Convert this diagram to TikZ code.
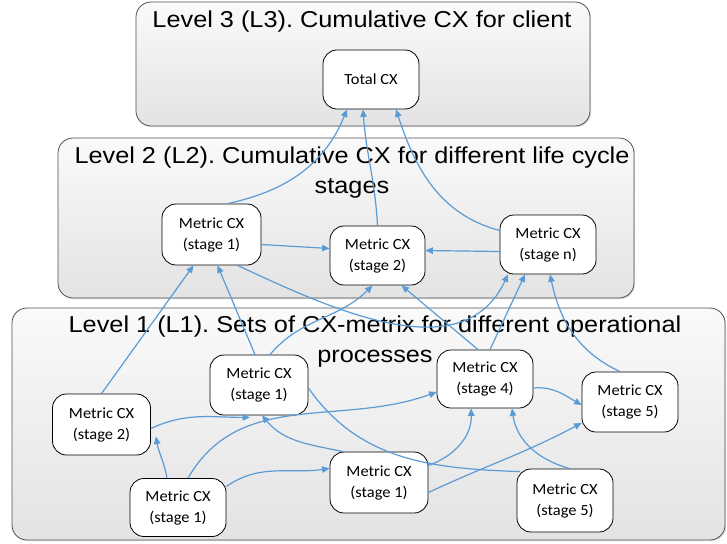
\documentclass[tikz,border=0pt]{standalone}
\usepackage{fontspec}
\setmainfont{Liberation Sans}[FakeStretch=1.1]
\newfontfamily\metricfont{Carlito}[FakeStretch=1.06]
\usetikzlibrary{arrows.meta,shadows}
\definecolor{linkblue}{HTML}{5B9BD5}
\definecolor{frameedge}{HTML}{505050}
\frenchspacing

\begin{document}
\begin{tikzpicture}[x=1pt,y=-1pt,
  levelbox/.style={draw=frameedge, line width=0.8pt, rounded corners=15pt,
    top color=gray!4, bottom color=gray!22, inner sep=0pt,
    drop shadow={shadow xshift=1.2pt, shadow yshift=-1.2pt, opacity=0.25}},
  leveltitle/.style={font=\fontsize{23}{30}\selectfont, align=center, inner sep=0pt},
  metric/.style={draw=black, line width=0.8pt, fill=white, rounded corners=14pt,
    minimum width=97pt, minimum height=60pt, inner sep=2pt, align=center,
    font=\metricfont\fontsize{15.5}{21}\selectfont},
  link/.style={draw=linkblue, line width=1.2pt, -{Triangle[length=7.5pt,width=6.5pt]}},
  tie/.style={draw=linkblue, line width=1.2pt}
]
\useasboundingbox (0,0) rectangle (727,543);

% the three level frames
\node[levelbox, minimum width=454pt, minimum height=124pt] (l3) at (363,64) {};
\node[levelbox, minimum width=576pt, minimum height=160pt] (l2) at (346,218) {};
\node[levelbox, minimum width=713pt, minimum height=232pt] (l1) at (368.5,424) {};

\node[leveltitle] (t3) at (362,22) {Level 3 (L3). Cumulative CX for client};
\node[leveltitle] (t2) at (352,173) {Level 2 (L2). Cumulative CX for different life cycle\\stages};
\node[leveltitle] (t1) at (375,342) {Level 1 (L1). Sets of CX-metrix for different operational\\processes};

% level 3
\node[metric, minimum width=96pt, minimum height=59pt] (tot) at (371,79.5) {Total CX};

% level 2
\node[metric, minimum width=99pt, minimum height=61pt] (m2a) at (211.5,234.5) {Metric CX\\(stage 1)};
\node[metric, minimum width=95pt, minimum height=59pt] (m2b) at (377.5,255.5) {Metric CX\\(stage 2)};
\node[metric, minimum width=96pt, minimum height=59pt] (m2n) at (548,244.5) {Metric CX\\(stage n)};

% level 1
\node[metric, minimum width=98pt, minimum height=61pt] (a) at (101.5,424.5) {Metric CX\\(stage 2)};
\node[metric, minimum width=98pt, minimum height=60pt] (b) at (259,385) {Metric CX\\(stage 1)};
\node[metric, minimum width=96pt, minimum height=58pt] (c) at (485,379) {Metric CX\\(stage 4)};
\node[metric, minimum width=96pt, minimum height=60pt] (d) at (630,402) {Metric CX\\(stage 5)};
\node[metric, minimum width=96pt, minimum height=58pt] (e) at (178,507.5) {Metric CX\\(stage 1)};
\node[metric, minimum width=98pt, minimum height=61pt] (f) at (379,482.5) {Metric CX\\(stage 1)};
\node[metric, minimum width=96pt, minimum height=63pt] (g) at (565,500.5) {Metric CX\\(stage 5)};

% level 2 -> level 3
\draw[link] ([xshift=16pt]m2a.north) to[out=12, in=-112] ([xshift=-24pt]tot.south);
\draw[link] (m2b.north) to[out=93, in=-86] ([xshift=-8pt]tot.south);
\draw[link] ([yshift=14pt]m2n.west) to[out=165, in=-72] ([xshift=25pt]tot.south);

% within level 2
\draw[link] ([yshift=-10pt]m2a.east) -- ([yshift=7pt]m2b.west);
\draw[link] ([yshift=-7pt]m2n.west) -- ([yshift=5pt]m2b.east);

% level 1 -> level 2
\draw[link] (a.north) -- ([xshift=-18pt]m2a.south);
\draw[link] ([xshift=-4pt]b.north) -- ([xshift=6pt]m2a.south);
\draw[link] ([xshift=11pt]b.north) to[out=50, in=-135] ([xshift=-5pt]m2b.south);
\draw[link] ([xshift=26pt]m2a.south) to[out=-25, in=-115] ([xshift=-40pt]m2n.south);
\draw[link] ([xshift=-7pt]c.north) -- ([xshift=24pt]m2b.south);
\draw[link] ([xshift=5pt]c.north) -- ([xshift=-23pt]m2n.south);
\draw[link] ([xshift=-10pt]d.north) to[out=155, in=-78] ([xshift=2pt]m2n.south);

% within level 1
\draw[link] ([yshift=-4pt]a.east) to[out=25, in=180] ([xshift=-9pt,yshift=-2pt]b.south);
\draw[link] ([xshift=-11pt]e.north) to[out=100, in=-80] ([xshift=5pt,yshift=-12pt]a.east);
\draw[link] ([xshift=10pt]e.north) to[out=60, in=200] ([yshift=-13pt]c.west);
\draw[link] ([yshift=21pt]e.east) to[out=35, in=188] ([yshift=14pt]f.west);
\draw[link] ([xshift=-36pt]f.north) to[out=168, in=-50] ([xshift=3pt]b.south);
\draw[tie] ([yshift=-3pt]b.east) to[out=-55, in=178] ([xshift=-45pt,yshift=-3pt]g.north);
\draw[link] ([yshift=17pt]f.east) to[out=20, in=-88] ([xshift=-14pt]c.south);
\draw[link] ([yshift=-10pt]f.east) to[out=25, in=208] ([yshift=-21pt]d.west);
\draw[link] ([xshift=5pt]g.north) to[out=165, in=-82] ([xshift=27pt]c.south);
\draw[link] ([yshift=-9pt]c.east) to[out=5, in=150] ([yshift=-3pt]d.west);
\end{tikzpicture}
\end{document}
